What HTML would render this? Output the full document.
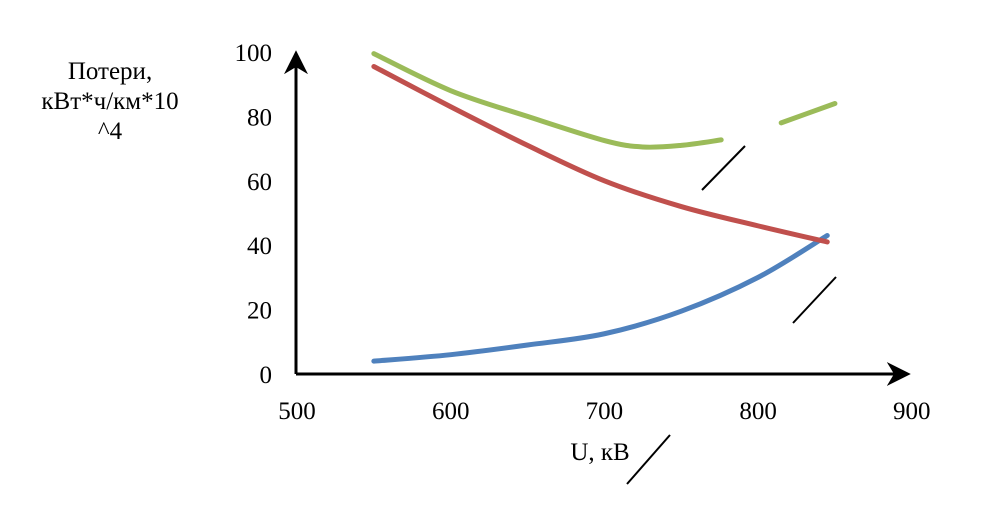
<!DOCTYPE html>
<html><head><meta charset="utf-8"><style>
html,body{margin:0;padding:0;background:#fff;}
svg{display:block;}
text{font-family:"Liberation Serif",serif;fill:#000;}
</style></head><body>
<svg id="chart" width="991" height="505">
<defs><marker id="ah" viewBox="0 0 10 10" refX="8" refY="5" markerWidth="8" markerHeight="8" orient="auto"><path d="M0,0 L10,5 L0,10 L3,5 z" fill="#000"/></marker></defs>
<text x="110" y="79" font-size="25" text-anchor="middle"><tspan x="110" dy="0">Потери,</tspan><tspan x="110" dy="30">кВт*ч/км*10</tspan><tspan x="110" dy="30">^4</tspan></text>
<text x="600" y="460" font-size="25" text-anchor="middle">U, кВ</text>
<g id="ticks"></g>
<g id="series"></g>
<line x1="296" y1="374" x2="296" y2="55" stroke="#000" stroke-width="3" marker-end="url(#ah)"/>
<line x1="296" y1="374" x2="906" y2="374" stroke="#000" stroke-width="3" marker-end="url(#ah)"/>
<line x1="702" y1="190" x2="745" y2="146" stroke="#000" stroke-width="2"/>
<line x1="793" y1="323" x2="836" y2="277" stroke="#000" stroke-width="2"/>
<line x1="627" y1="484" x2="670" y2="435" stroke="#000" stroke-width="2"/>
</svg>
<script>
const xTicks=[500,600,700,800,900];
const yTicks=[0,20,40,60,80,100];
const greenA=[[550,99.5],[600,88],[650,80],[700,72.5],[725,70.5],[750,71],[776,72.7]];
const greenB=[[815,78],[850,84]];
const red=[[550,95.5],[600,83],[650,71],[700,60],[750,52],[800,46],[845,41]];
const blue=[[550,4],[600,6],[650,9],[700,12.5],[750,19.5],[800,30],[845,43]];
const NS='http://www.w3.org/2000/svg';
function X(v){return 297+(v-500)*1.537;}
function Y(v){return 374-v*3.22;}
const tg=document.getElementById('ticks');
xTicks.forEach(t=>{const e=document.createElementNS(NS,'text');e.setAttribute('x',X(t));e.setAttribute('y',419);e.setAttribute('font-size','25');e.setAttribute('text-anchor','middle');e.textContent=t;


tg.appendChild(e);});
yTicks.forEach(t=>{const e=document.createElementNS(NS,'text');e.setAttribute('x',272);e.setAttribute('y',Y(t)+9);e.setAttribute('font-size','25');e.setAttribute('text-anchor','end');e.textContent=t;


tg.appendChild(e);});
function path(pts){const p=pts.map(d=>[X(d[0]),Y(d[1])]);let s='M'+p[0][0]+','+p[0][1];
for(let i=0;i<p.length-1;i++){const p0=p[i-1]||p[i],p1=p[i],p2=p[i+1],p3=p[i+2]||p2;
s+=' C'+(p1[0]+(p2[0]-p0[0])/6)+','+(p1[1]+(p2[1]-p0[1])/6)+' '+(p2[0]-(p3[0]-p1[0])/6)+','+(p2[1]-(p3[1]-p1[1])/6)+' '+p2[0]+','+p2[1];}return s;}
const sg=document.getElementById('series');
[[blue,'#4f81bd','series-blue'],[red,'#c0504d','series-red'],[greenA,'#9bbb59','series-green'],[greenB,'#9bbb59','series-green-end']].forEach(s=>{
const e=document.createElementNS(NS,'path');e.setAttribute('d',path(s[0]));e.setAttribute('fill','none');e.setAttribute('stroke',s[1]);e.setAttribute('stroke-width','5');e.setAttribute('stroke-linecap','round');


sg.appendChild(e);});
</script>
</body></html>
